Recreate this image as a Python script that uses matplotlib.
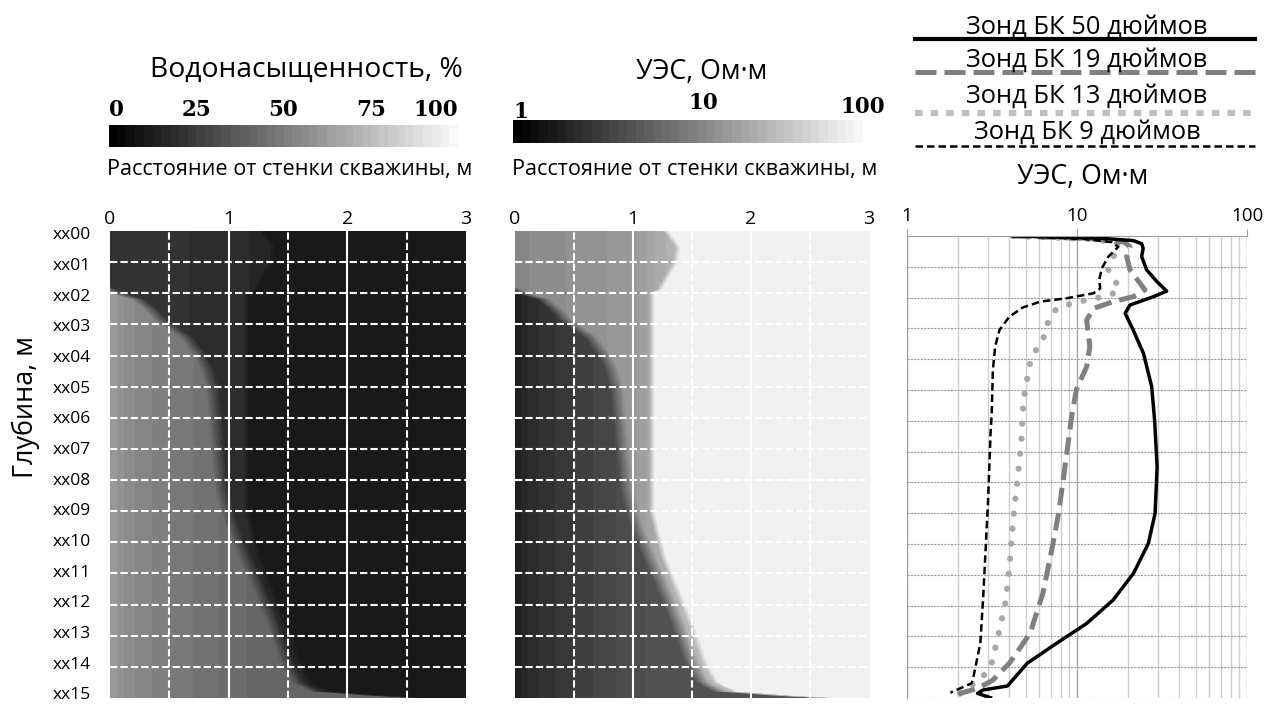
import numpy as np
import matplotlib
matplotlib.use("Agg")
import matplotlib.pyplot as plt
from matplotlib.colors import ListedColormap, LogNorm, Normalize
from matplotlib.cm import ScalarMappable
from matplotlib.ticker import FixedLocator, LogLocator, NullFormatter
from matplotlib import transforms

plt.rcParams['font.family'] = ['Open Sans', 'DejaVu Sans']

# ---------------- data ----------------
DEPTH_LABELS = ['xx%02d' % i for i in range(16)]
DEPTH_TICKS = list(range(16))
RADIUS_TICKS = [0, 1, 2, 3]
SW_TICKS = [0, 25, 50, 75, 100]
RES_TICKS = [1, 10, 100]

# invasion (flushed zone) front radius vs depth, m
FRONT_DEPTH = [0.0, 1.8, 1.85, 2.0, 2.2, 2.5, 2.9, 3.4, 3.9, 4.4, 5.0, 6.2, 8.3, 9.4,
               10.5, 11.6, 12.7, 13.8, 14.5, 14.8, 14.95, 15.0]
FRONT_R = [0.0, 0.0, 0.05, 0.12, 0.3, 0.4, 0.5, 0.7, 0.8, 0.87, 0.92, 0.95, 1.0, 1.08,
           1.2, 1.33, 1.45, 1.55, 1.65, 1.8, 2.3, 2.55]
# outer radius of the intermediate zone vs depth, m
MID_DEPTH = [0.0, 0.5, 1.0, 1.5, 1.85, 2.0, 9.0, 10.5, 11.6, 12.7, 13.8, 14.5, 14.8, 14.95, 15.0]
MID_R = [1.3, 1.4, 1.38, 1.3, 1.25, 1.18, 1.18, 1.28, 1.4, 1.52, 1.62, 1.72, 1.88, 2.4, 2.65]

# water saturation, %
SW_FAR = 11.0
SW_FLUSH_R = [0.0, 0.15, 0.5, 1.0, 1.4, 3.0]
SW_FLUSH = [62, 56, 50, 44, 40, 40]
SW_MID_R = [0.0, 1.0, 1.45]
SW_MID = [22, 19, 15]

# resistivity, Ohm*m
RES_FAR = 80.0
RES_FLUSH_R = [0.0, 0.15, 0.5, 1.0, 1.4, 3.0]
RES_FLUSH = [1.8, 2.4, 3.2, 4.3, 5.0, 5.0]
RES_MID_R = [0.0, 1.0, 1.45]
RES_MID = [12, 17, 30]

# laterolog probe curves (depth, m ; resistivity, Ohm*m)
D50 = [0.0, 0.07, 0.15, 0.25, 0.4, 0.67, 1.1, 1.48, 1.79, 1.97, 2.24, 2.51, 3.05, 3.81, 4.89,
       5.97, 7.49, 9.0, 9.98, 10.95, 11.82, 12.58, 13.22, 13.87, 14.47, 14.61, 14.74, 14.85, 14.99]
R50 = [4.2, 13.5, 21.5, 24.0, 24.5, 24.0, 25.7, 29.5, 33.7, 28.2, 20.5, 19.2, 21.4, 24.6, 27.5,
       28.6, 29.6, 28.8, 26.3, 21.5, 16.3, 11.4, 7.6, 5.1, 4.1, 3.9, 2.8, 2.6, 3.1]
D19 = [0.0, 0.1, 0.2, 0.35, 0.67, 1.1, 1.54, 1.75, 1.97, 2.13, 2.35, 2.73, 3.59, 4.24, 5.0,
       5.87, 7.49, 9.0, 10.2, 11.6, 12.9, 13.87, 14.42, 14.69, 14.85, 14.95]
R19 = [4.2, 14.0, 19.0, 20.5, 19.6, 20.5, 23.5, 25.1, 21.4, 16.4, 12.5, 11.4, 11.9, 11.4, 9.9,
       9.3, 8.5, 7.8, 7.1, 6.3, 5.3, 4.0, 3.2, 2.6, 2.05, 1.95]
D13 = [0.0, 0.1, 0.2, 0.4, 0.6, 1.1, 1.54, 1.81, 1.97, 2.08, 2.19, 2.35, 2.73, 3.21, 3.65,
       4.13, 4.62, 5.16, 5.65, 6.73, 8.25, 9.27, 10.79, 11.87, 12.79, 13.87, 14.31, 14.63, 14.8, 14.92]
R13 = [4.2, 12.0, 17.0, 17.9, 16.6, 15.3, 17.1, 17.5, 14.3, 11.4, 9.3, 7.6, 6.8, 6.5, 5.8,
       5.3, 5.1, 4.9, 4.8, 4.7, 4.4, 4.2, 4.0, 3.8, 3.5, 3.15, 2.8, 2.35, 2.1, 2.0]
D9 = [0.0, 0.1, 0.2, 0.35, 0.67, 1.05, 1.43, 1.7, 1.86, 2.02, 2.13, 2.32, 2.62, 3.05, 3.59,
      4.35, 5.76, 6.41, 8.57, 10.19, 11.82, 13.22, 14.31, 14.52, 14.83]
R9 = [4.2, 11.0, 16.0, 17.5, 15.3, 14.0, 13.5, 13.7, 12.5, 8.7, 6.1, 4.8, 4.0, 3.5, 3.3,
      3.2, 3.15, 3.1, 3.0, 2.9, 2.8, 2.7, 2.46, 2.4, 1.8]

LEGEND_LABELS = ['Зонд БК 50 дюймов', 'Зонд БК 19 дюймов', 'Зонд БК 13 дюймов', 'Зонд БК 9 дюймов']

# ---------------- figure ----------------
W, H = 1266, 704
fig = plt.figure(figsize=(W / 100, H / 100), dpi=100)


def box(l, t, r, b):
    return [l / W, 1 - b / H, (r - l) / W, (b - t) / H]


ax1 = fig.add_axes(box(110, 231, 466, 698))
ax2 = fig.add_axes(box(515, 231, 869, 698))
ax3 = fig.add_axes(box(907, 236, 1247, 698))
cax1 = fig.add_axes(box(109, 125, 458, 147))
cax2 = fig.add_axes(box(513, 120, 863, 143))
ov = fig.add_axes([0, 0, 1, 1])
ov.set_xlim(0, W)
ov.set_ylim(H, 0)
ov.axis('off')
ov.patch.set_visible(False)

cmap = ListedColormap(plt.cm.gray(np.linspace(0, 0.97, 40)))
norm_sw = Normalize(0, 100)
norm_res = LogNorm(1, 100)

# ---------------- radial images ----------------
r = np.linspace(0, 3, 481)
d = np.linspace(0, 15, 901)
front = np.interp(d, FRONT_DEPTH, FRONT_R)[:, None]
mid = np.interp(d, MID_DEPTH, MID_R)[:, None]
RR = r[None, :]
w_fl = np.clip((front - RR) / 0.12, 0, 1)
w_md = np.clip((mid - RR) / 0.05, 0, 1)


def build(fl_r, fl_v, md_r, md_v, far_v, log=False):
    fv = np.interp(r, fl_r, fl_v)[None, :]
    mv = np.interp(r, md_r, md_v)[None, :]
    fa = far_v
    if log:
        fv, mv, fa = np.log10(fv), np.log10(mv), np.log10(far_v)
    out = w_fl * fv + (1 - w_fl) * (w_md * mv + (1 - w_md) * fa)
    return 10 ** out if log else out


sw = build(SW_FLUSH_R, SW_FLUSH, SW_MID_R, SW_MID, SW_FAR)
res = build(RES_FLUSH_R, RES_FLUSH, RES_MID_R, RES_MID, RES_FAR, log=True)

for ax, img, nrm in [(ax1, sw, norm_sw), (ax2, res, norm_res)]:
    ax.imshow(img, extent=[0, 3, 15, 0], cmap=cmap, norm=nrm, aspect='auto',
              interpolation='nearest')
    ax.set_xlim(0, 3)
    ax.set_ylim(15, 0)
    for x in [1, 2]:
        ax.axvline(x, color='white', lw=1.5)
    for x in [0.5, 1.5, 2.5]:
        ax.axvline(x, color='white', lw=1.5, ls=(0, (3.5, 1.5)))
    for y in range(1, 15):
        ax.axhline(y, color='white', lw=1.5, ls=(0, (3.5, 1.5)))
    for s in ax.spines.values():
        s.set_visible(False)
    ax.xaxis.tick_top()
    ax.set_xticks(RADIUS_TICKS)
    ax.set_xticklabels([str(t) for t in RADIUS_TICKS], fontsize=14)
    ax.tick_params(axis='x', length=0, pad=2)

ax1.set_yticks([0.08 + 0.985 * t for t in DEPTH_TICKS])
ax1.set_yticklabels(DEPTH_LABELS, fontsize=12.5)
ax1.tick_params(axis='y', length=0, pad=14)
ax2.set_yticks([])

# ---------------- colorbars ----------------
for cax, nrm in [(cax1, norm_sw), (cax2, norm_res)]:
    cb = fig.colorbar(ScalarMappable(norm=nrm, cmap=cmap), cax=cax, orientation='horizontal')
    cb.outline.set_visible(False)
    cax.set_xticks([])
    cax.xaxis.set_minor_locator(FixedLocator([]))
    cax.tick_params(length=0, which='both')

bold = dict(family='DejaVu Serif', fontweight='bold', fontsize=15.5)
tr1 = transforms.blended_transform_factory(cax1.transData, ov.transData)
for i, t in enumerate(SW_TICKS):
    ha = 'left' if i == 0 else ('right' if i == len(SW_TICKS) - 1 else 'center')
    ov.text(t, 110, str(t), transform=tr1, ha=ha, va='center', **bold)
tr2 = transforms.blended_transform_factory(cax2.transData, ov.transData)
for t, ha, yy in zip(RES_TICKS, ['left', 'left', 'center'], [112, 103, 107]):
    ov.text(t, yy, str(t), transform=tr2, ha=ha, va='center', **bold)

# ---------------- probe curves ----------------
ax3.set_xscale('log')
ax3.set_xlim(1, 100)
ax3.set_ylim(15, 0)
ax3.xaxis.tick_top()
ax3.set_xticks(RES_TICKS)
ax3.set_xticklabels([str(t) for t in RES_TICKS], fontsize=13.5)
ax3.xaxis.set_minor_locator(LogLocator(subs=range(2, 10)))
ax3.xaxis.set_minor_formatter(NullFormatter())
ax3.tick_params(axis='x', which='major', length=5, color='#a0a0a0', pad=3)
ax3.tick_params(axis='x', which='minor', length=0)
ax3.set_yticks([])
ax3.grid(which='minor', axis='x', color='#cfcfcf', lw=1)
ax3.grid(which='major', axis='x', color='#a6a6a6', lw=1)
for y in range(1, 15):
    ax3.axhline(y, color='#9a9a9a', lw=0.8, ls=(0, (2, 1)))
ax3.axhline(15, color='#9a9a9a', lw=0.8, ls=(0, (2, 1)))
ax3.axvline(100, color='#9a9a9a', lw=0.8, ls=(0, (2, 1)))
ax3.spines['top'].set_color('#a0a0a0')
ax3.spines['left'].set_color('#a0a0a0')
ax3.spines['right'].set_visible(False)
ax3.spines['bottom'].set_visible(False)

ax3.plot(R13, D13, color='#a8a8a8', lw=4.5, ls=(0, (0.01, 2.4)), dash_capstyle='round')
ax3.plot(R19, D19, color='#808080', lw=3.6, ls=(0, (3.5, 1.6)))
ax3.plot(R9, D9, color='black', lw=1.8, ls=(0, (3, 1.6)))
ax3.plot(R50, D50, color='black', lw=2.5)

# ---------------- legend ----------------
leg_styles = [dict(color='black', lw=3),
              dict(color='#808080', lw=3.6, ls=(0, (4.2, 1.6))),
              dict(color='#c0c0c0', lw=4.5, ls=(0, (1.2, 1.3))),
              dict(color='black', lw=1.8, ls=(0, (3, 1.6)))]
leg_line_y = [39, 72, 113, 146]
leg_text_y = [27, 60, 96, 132]
leg_texts = []
for lab, st, ly, ty in zip(LEGEND_LABELS, leg_styles, leg_line_y, leg_text_y):
    ov.plot([915, 1255], [ly, ly], **st)
    leg_texts.append(ov.text(1087, ty, lab, ha='center', va='center', fontsize=15))

# ---------------- titles ----------------
t_sw = ov.text(306, 70, 'Водонасыщенность, %', ha='center', va='center', fontsize=19)
t_r2 = ov.text(702, 72, 'УЭС, Ом·м', ha='center', va='center', fontsize=15)
t_d1 = ov.text(290, 170, 'Расстояние от стенки скважины, м', ha='center', va='center', fontsize=13)
t_d2 = ov.text(695, 170, 'Расстояние от стенки скважины, м', ha='center', va='center', fontsize=13)
t_r3 = ov.text(1083, 177, 'УЭС, Ом·м', ha='center', va='center', fontsize=15)
t_dep = ov.text(26, 407, 'Глубина, м', ha='center', va='center', rotation=90, fontsize=20)

# scale text sizes to the widths seen in the reference
fig.canvas.draw()
rend = fig.canvas.get_renderer()


def fit(texts, target, vertical=False):
    bb = texts[0].get_window_extent(rend)
    cur = bb.height if vertical else bb.width
    k = target / cur
    for t in texts:
        t.set_fontsize(t.get_fontsize() * k)


fit([t_sw], 313)
fit([t_r2, t_r3], 131)
fit([t_d1, t_d2], 363)
fit(leg_texts, 242)
fit([t_dep], 142, vertical=True)

fig.savefig('out.png', dpi=100)
